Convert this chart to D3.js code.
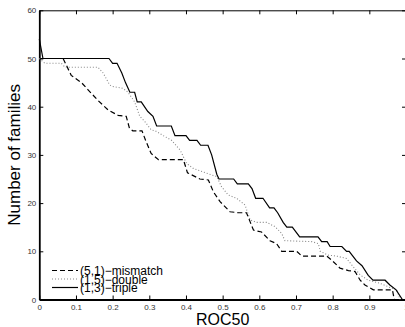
<!DOCTYPE html>
<html>
<head>
<meta charset="utf-8">
<script src="https://cdn.jsdelivr.net/npm/d3@7"></script>
<style>
  html, body { margin: 0; padding: 0; background: #fff; }
  svg { display: block; }
</style>
</head>
<body>
<div id="chart"></div>
<script>
// curves: [ROC50, number of families] vertices
var mismatch = [
  [0, 50], [0.065, 50], [0.087, 46.5], [0.115, 45], [0.133, 43.5], [0.16, 41.3],
  [0.188, 39.3], [0.215, 38.2], [0.237, 38], [0.246, 35.5], [0.255, 35], [0.28, 35],
  [0.29, 33], [0.305, 30.3], [0.325, 29], [0.393, 29], [0.404, 26.3], [0.438, 25],
  [0.461, 24.8], [0.475, 22.3], [0.493, 20.3], [0.52, 18.2], [0.543, 18], [0.565, 18],
  [0.575, 16.1], [0.584, 14.4], [0.606, 14], [0.629, 12.2], [0.647, 11.6], [0.661, 10],
  [0.702, 10], [0.716, 9], [0.784, 9], [0.797, 8.2], [0.82, 6.5], [0.843, 6],
  [0.861, 5.8], [0.875, 4], [0.888, 3], [0.911, 2], [0.963, 2], [0.968, 0]
];
var doubleSeries = [
  [0, 50], [0.015, 49], [0.06, 49], [0.07, 48.2], [0.16, 48.2], [0.174, 47],
  [0.192, 44.5], [0.2, 44.2], [0.215, 44], [0.228, 43.8], [0.242, 43], [0.26, 41],
  [0.274, 38], [0.287, 37], [0.305, 35.2], [0.316, 35], [0.338, 34], [0.361, 33],
  [0.384, 31], [0.402, 28.2], [0.42, 27.2], [0.456, 26.2], [0.484, 25.5], [0.497, 23.4],
  [0.515, 21.7], [0.538, 21], [0.561, 19.6], [0.575, 16.5], [0.593, 16], [0.62, 16],
  [0.643, 15.1], [0.661, 13.7], [0.67, 12.2], [0.743, 12], [0.761, 11.6], [0.766, 10],
  [0.788, 9.2], [0.811, 9], [0.838, 8.5], [0.856, 6.8], [0.875, 5.1], [0.897, 4],
  [0.928, 3.4], [0.956, 2.5], [0.975, 2], [0.984, 0]
];
var triple = [
  [0, 54], [0.01, 50], [0.19, 50], [0.2, 49], [0.212, 49], [0.225, 47], [0.235, 45],
  [0.247, 43], [0.26, 43], [0.267, 41], [0.278, 41], [0.296, 39], [0.31, 38],
  [0.32, 36], [0.36, 36], [0.37, 34], [0.4, 34], [0.41, 33], [0.43, 33], [0.44, 32],
  [0.46, 32], [0.47, 30], [0.484, 26], [0.49, 25], [0.53, 25], [0.54, 24], [0.57, 24],
  [0.58, 23], [0.59, 21], [0.61, 21], [0.628, 19], [0.64, 19], [0.65, 18], [0.665, 16],
  [0.675, 15], [0.69, 15], [0.71, 13], [0.76, 13], [0.77, 12], [0.785, 12], [0.793, 11],
  [0.825, 11], [0.838, 10], [0.845, 10], [0.865, 8], [0.88, 7], [0.897, 5], [0.91, 4],
  [0.943, 4], [0.956, 3], [0.973, 2], [0.99, 0]
];
var seriesNames = ["(5,1)\u2212mismatch", "(1,5)\u2212double", "(1,3)\u2212triple"];
var xTicks = [0, 0.1, 0.2, 0.3, 0.4, 0.5, 0.6, 0.7, 0.8, 0.9, 1];
var yTicks = [0, 10, 20, 30, 40, 50, 60];

var W = 405, H = 327;
var plotL = 39.3, plotR = 406, plotT = 10.3, plotB = 299.5;

var svg = d3.select("#chart").append("svg")
  .attr("width", W).attr("height", H)
  .style("font-family", "'Liberation Sans', Arial, sans-serif");

var x = d3.scaleLinear().domain([0, 1]).range([plotL, plotR]);
var y = d3.scaleLinear().domain([0, 60]).range([plotB, plotT]);

// axes with inward ticks
var fmt = function (d) { return d === 0 ? "0" : d === 1 ? "1" : d3.format(".1f")(d); };

var gx = svg.append("g").attr("transform", "translate(0," + plotB + ")")
  .call(d3.axisBottom(x).tickValues(xTicks).tickFormat(fmt).tickSizeInner(-4).tickSizeOuter(0).tickPadding(4.5));
var gxTop = svg.append("g").attr("transform", "translate(0," + plotT + ")")
  .call(d3.axisTop(x).tickValues(xTicks).tickFormat("").tickSizeInner(-4).tickSizeOuter(0));
var gy = svg.append("g").attr("transform", "translate(" + plotL + ",0)")
  .call(d3.axisLeft(y).tickValues(yTicks).tickSizeInner(-4).tickSizeOuter(0).tickPadding(3));
var gyRight = svg.append("g").attr("transform", "translate(" + plotR + ",0)")
  .call(d3.axisRight(y).tickValues(yTicks).tickFormat("").tickSizeInner(-4).tickSizeOuter(0));

[gx, gy].forEach(function (g) {
  g.selectAll("text").attr("font-size", 8).attr("fill", "#333").attr("font-family", "'Liberation Sans', Arial, sans-serif");
});
gx.select(".domain").attr("stroke-width", 1.8);
gy.select(".domain").attr("stroke-width", 1.8);
gxTop.select(".domain").attr("stroke-width", 1);
svg.selectAll(".tick line").attr("stroke-width", 1);

// curves
var line = d3.line().x(function (d) { return x(d[0]); }).y(function (d) { return y(d[1]); });
var styles = [
  { data: mismatch, color: "#000", dash: "5,3", width: 1.2 },
  { data: doubleSeries, color: "#888", dash: "1,2", width: 1.1 },
  { data: triple, color: "#000", dash: null, width: 1.2 }
];
styles.forEach(function (s) {
  svg.append("path").datum(s.data)
    .attr("d", line)
    .attr("fill", "none")
    .attr("stroke", s.color)
    .attr("stroke-width", s.width)
    .attr("stroke-dasharray", s.dash);
});

// legend
var leg = svg.append("g");
styles.forEach(function (s, i) {
  var by = 275 + i * 8.5;
  leg.append("line")
    .attr("x1", 52).attr("x2", 78)
    .attr("y1", by - 4.5).attr("y2", by - 4.5)
    .attr("stroke", s.color).attr("stroke-width", s.width)
    .attr("stroke-dasharray", s.dash);
  leg.append("text")
    .attr("x", 80).attr("y", by)
    .attr("font-size", 12)
    .attr("fill", "#000")
    .text(seriesNames[i]);
});

// axis titles
svg.append("text")
  .attr("x", (plotL + plotR) / 2).attr("y", 325)
  .attr("text-anchor", "middle").attr("font-size", 16)
  .text("ROC50");
svg.append("text")
  .attr("transform", "translate(20," + ((plotT + plotB) / 2) + ") rotate(-90)")
  .attr("text-anchor", "middle").attr("font-size", 17)
  .text("Number of families");
</script>
</body>
</html>
